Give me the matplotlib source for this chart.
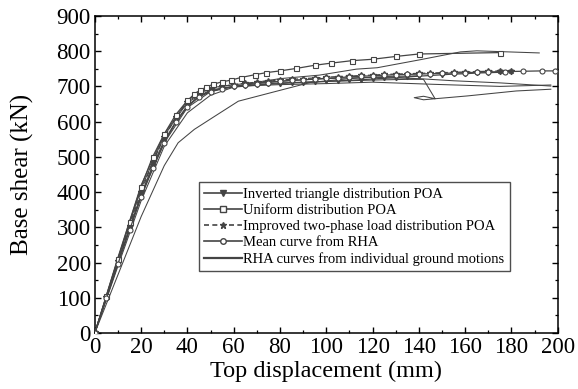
import matplotlib
matplotlib.use("Agg")
import matplotlib.pyplot as plt
from matplotlib.ticker import MultipleLocator

plt.rcParams.update(
    {
        "font.family": ["Liberation Serif", "DejaVu Serif"],
        "font.size": 16,
        "axes.linewidth": 1.1,
    }
)

# ---- pushover curves (displacement mm, base shear kN) ----
tri_x = [0, 5, 10, 15, 20, 25, 30, 35, 40, 45, 50, 55, 60, 65, 70, 75, 80, 85, 90, 95,
         100, 105, 110, 115, 120, 125, 130, 135, 140, 145, 150, 155, 160, 165, 170, 175, 180]
tri_y = [0, 100, 200, 298, 392, 475, 545, 600, 645, 672, 687, 694, 698, 701, 704, 706, 708,
         710, 711, 713, 714, 716, 717, 719, 721, 723, 725, 727, 729, 731, 733, 735, 736,
         738, 739, 740, 741]

uni_x = [0, 5, 10, 15, 20, 25, 30, 35, 40, 43, 45.5, 48, 51, 55, 59, 63, 69, 74, 80, 87,
         95, 102, 111, 120, 130, 140, 175]
uni_y = [0, 105, 210, 315, 415, 500, 565, 620, 660, 678, 690, 697, 706, 713, 718, 725,
         733, 739, 744, 751, 760, 766, 773, 777, 785, 792, 796]

imp_x = [0, 5, 10, 15, 20, 25, 30, 35, 40, 45, 50, 55, 60, 65, 70, 75, 80, 85, 90, 95,
         100, 105, 110, 115, 120, 125, 130, 135, 140, 145, 150, 155, 160, 165, 170, 175, 180]
imp_y = [0, 102, 204, 305, 400, 485, 555, 612, 655, 680, 693, 700, 705, 709, 712, 715,
         718, 720, 722, 724, 726, 728, 729, 731, 732, 734, 735, 736, 737, 738, 739, 740,
         741, 742, 743, 744, 745]

mean_x = [0, 5, 10, 15, 20, 25, 30, 35, 40, 45, 50, 55, 60, 65, 70, 75, 80, 85, 90, 95,
          100, 105, 110, 115, 120, 125, 130, 135, 140, 145, 150, 155, 160, 165, 170, 177,
          185, 193, 199]
mean_y = [0, 98, 196, 292, 385, 468, 540, 598, 642, 670, 685, 694, 700, 704, 708, 711,
          714, 717, 719, 721, 723, 725, 727, 729, 730, 732, 733, 734, 735, 736, 737, 738,
          739, 740, 741, 742, 743, 744, 744]

# RHA curves, one per ground motion
rha_a_x = [0, 10, 20, 30, 40, 50, 60, 70, 80, 97, 113, 122, 140, 158, 165, 192]
rha_a_y = [0, 190, 375, 530, 625, 675, 698, 712, 722, 732, 749, 753, 775, 798, 801, 795]
rha_b_x = [0, 10, 20, 30, 40, 50, 60, 80, 100, 120, 135, 142, 147, 142, 138, 142, 147,
           161, 182, 197]
rha_b_y = [0, 200, 390, 540, 640, 685, 700, 710, 714, 718, 720, 720, 665, 662, 668,
           672, 665, 673, 687, 692]
rha_c_x = [0, 10, 20, 30, 40, 50, 60, 80, 100, 120, 146, 175, 197]
rha_c_y = [0, 210, 410, 560, 655, 690, 700, 705, 708, 712, 706, 700, 704]
rha_d_x = [0, 10, 20, 30, 36, 43, 52, 62, 76, 93, 110, 125, 140]
rha_d_y = [0, 165, 330, 475, 540, 578, 616, 658, 682, 711, 722, 728, 730]
rha_e_x = [0, 10, 20, 30, 40, 45, 50, 60, 80, 100, 120, 140, 155, 175, 197]
rha_e_y = [0, 215, 420, 565, 660, 685, 696, 705, 715, 722, 726, 722, 716, 710, 701]

rha_curves = [(rha_a_x, rha_a_y), (rha_b_x, rha_b_y), (rha_c_x, rha_c_y),
              (rha_d_x, rha_d_y), (rha_e_x, rha_e_y)]

labels = [
    "Inverted triangle distribution POA",
    "Uniform distribution POA",
    "Improved two-phase load distribution POA",
    "Mean curve from RHA",
    "RHA curves from individual ground motions",
]

fig = plt.figure(figsize=(5.78, 3.89), dpi=100)
ax = fig.add_axes([0.164, 0.144, 0.801, 0.815])

dark = "#444444"

for cx, cy in rha_curves:
    ax.plot(cx, cy, color=dark, lw=0.75, zorder=2)

ax.plot(tri_x, tri_y, color=dark, lw=0.9, marker="v", ms=3.2, mfc=dark, mec=dark,
        zorder=3)
ax.plot(uni_x, uni_y, color=dark, lw=0.9, marker="s", ms=3.6, mfc="white", mec=dark,
        mew=0.8, zorder=4)
ax.plot(imp_x, imp_y, color=dark, lw=0.9, ls=(0, (4, 2)), marker="*", ms=4.2, mfc=dark,
        mec=dark, zorder=3)
ax.plot(mean_x, mean_y, color=dark, lw=0.9, marker="o", ms=3.6, mfc="white", mec=dark,
        mew=0.8, zorder=4)

# legend handles
h1, = ax.plot([], [], color=dark, lw=1.2, marker="v", ms=4, mfc=dark, mec=dark)
h2, = ax.plot([], [], color=dark, lw=1.2, marker="s", ms=4, mfc="white", mec=dark)
h3, = ax.plot([], [], color=dark, lw=1.2, ls=(0, (3, 2)), marker="*", ms=5, mfc=dark,
              mec=dark)
h4, = ax.plot([], [], color=dark, lw=1.2, marker="o", ms=4, mfc="white", mec=dark)
h5, = ax.plot([], [], color=dark, lw=1.6)

leg = ax.legend(
    [h1, h2, h3, h4, h5], labels,
    loc="upper left", bbox_to_anchor=(0.225, 0.475),
    fontsize=10.5, frameon=True, fancybox=False, edgecolor="#222222",
    handlelength=2.6, handletextpad=0.1, labelspacing=0.2, borderpad=0.35,
    borderaxespad=0,
)
leg.get_frame().set_linewidth(1.0)

ax.set_xlim(0, 200)
ax.set_ylim(0, 900)
ax.xaxis.set_major_locator(MultipleLocator(20))
ax.xaxis.set_minor_locator(MultipleLocator(10))
ax.yaxis.set_major_locator(MultipleLocator(100))
ax.yaxis.set_minor_locator(MultipleLocator(50))
ax.tick_params(which="both", direction="in", top=True, right=True, labelsize=16.5)
ax.tick_params(which="major", length=4.5, width=1.0, pad=3)
ax.tick_params(which="minor", length=2.5, width=0.9)

ax.set_xlabel("Top displacement (mm)", fontsize=17.5, labelpad=2)
ax.set_ylabel("Base shear (kN)", fontsize=18, labelpad=16)

fig.savefig("out.png", dpi=100)
